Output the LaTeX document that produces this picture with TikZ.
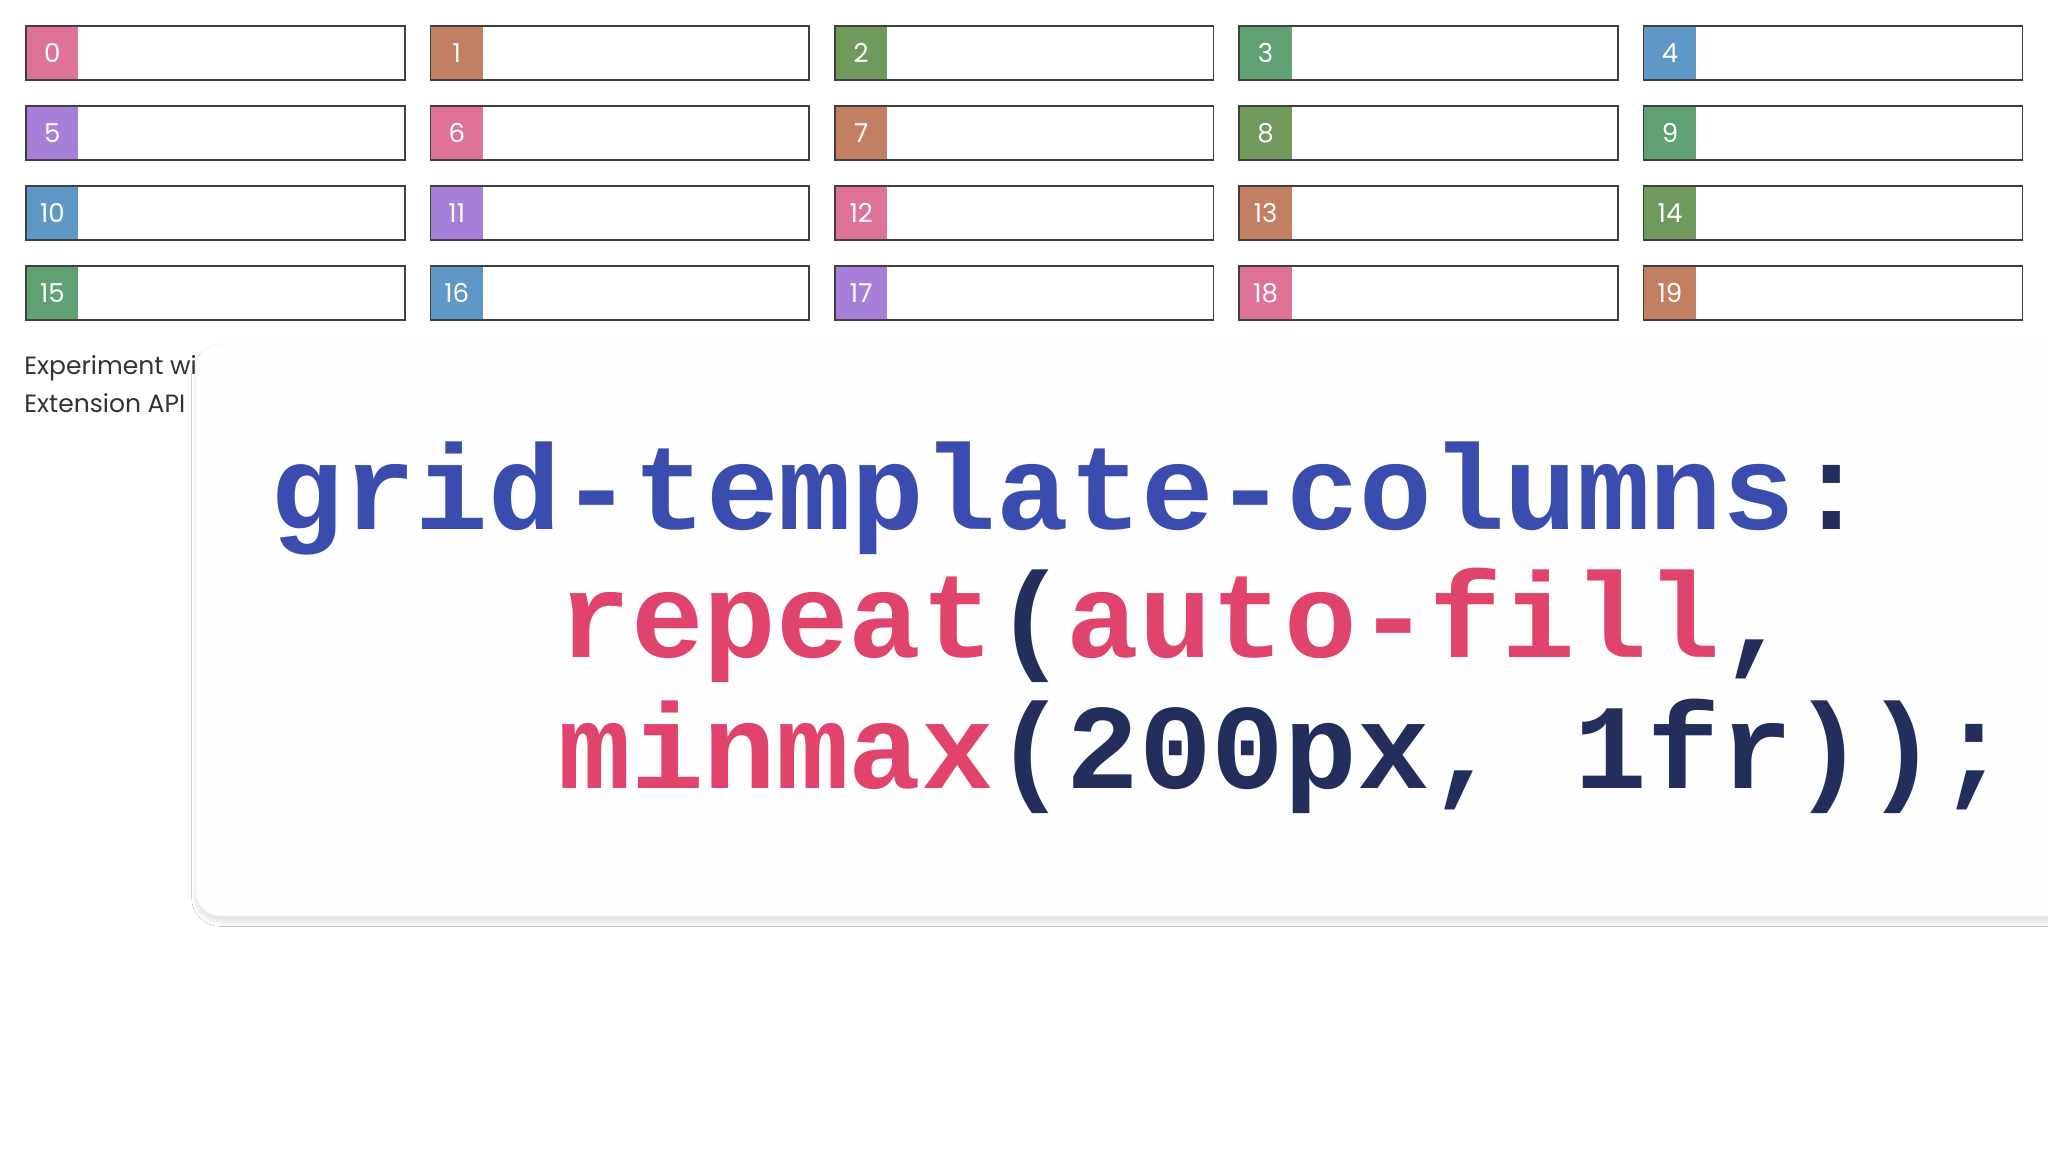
\documentclass[tikz,border=0pt]{standalone}
\usepackage{fontspec}
\setmainfont{Liberation Sans}
\newfontfamily\codefont{Liberation Mono}
\newfontfamily\uifont{Poppins}
\usetikzlibrary{shadows.blur}
\definecolor{cA}{HTML}{DE7299}
\definecolor{cB}{HTML}{C37F62}
\definecolor{cC}{HTML}{6F9A5C}
\definecolor{cD}{HTML}{5FA173}
\definecolor{cE}{HTML}{5F97C7}
\definecolor{cF}{HTML}{A57FD8}
\definecolor{kwblue}{HTML}{3A4DAE}
\definecolor{kwpink}{HTML}{E0436C}
\definecolor{navy}{HTML}{232E5C}
\definecolor{bg}{HTML}{FEFEFE}
\tikzset{
  cell/.style={fill=white, minimum width=189pt, minimum height=26.5pt, inner sep=0pt, anchor=north west},
  tag/.style={minimum width=26pt, minimum height=26.5pt, inner sep=0pt, anchor=north west, text=white, font=\uifont\fontsize{13}{16}\selectfont},
  panel/.style={fill=bg, rounded corners=12pt, draw=black!4, blur shadow={shadow blur steps=20, shadow blur extra rounding=6pt, shadow xshift=0pt, shadow yshift=-3pt, shadow opacity=12}},
  code/.style={anchor=base west, inner sep=0pt, font=\codefont\bfseries\fontsize{60.5}{60}\selectfont},
  ui/.style={anchor=base west, inner sep=0pt, font=\uifont\fontsize{12.5}{15}\selectfont, text=black!80}
}
\begin{document}
\begin{tikzpicture}[x=1pt,y=1pt]
\useasboundingbox[fill=white] (0,0) rectangle (1024,-576);
\foreach \i/\c in {0/cA,1/cB,2/cC,3/cD,4/cE,5/cF,6/cA,7/cB,8/cC,9/cD,10/cE,11/cF,12/cA,13/cB,14/cC,15/cD,16/cE,17/cF,18/cA,19/cB}{
  \pgfmathtruncatemacro{\col}{mod(\i,5)}
  \pgfmathtruncatemacro{\row}{int(\i/5)}
  \pgfmathsetmacro{\xx}{13+202.2*\col}
  \pgfmathsetmacro{\yy}{-13-40*\row}
  \node[cell] (c\i) at (\xx,\yy) {};
  \node[tag, fill=\c] (t\i) at (\xx,\yy) {\i};
  \draw[black!75, line width=0.8pt] (c\i.north west) rectangle (c\i.south east);
}
\node[ui] (u1) at (12,-187) {Experiment with the};
\node[ui] (u2) at (12,-206) {Extension API};
\path[panel] (98,-172) rectangle (1060,-458);
\node[code, text=kwblue] (l1) at (135,-264.5) {grid-template-columns\textcolor{navy}{:}};
\node[code, text=kwpink] (l2) at (279,-328.5) {repeat\textcolor{navy}{(}auto-fill\textcolor{navy}{,}};
\node[code, text=navy] (l3) at (279,-394) {\textcolor{kwpink}{minmax}(200px, 1fr));};
\end{tikzpicture}
\end{document}
